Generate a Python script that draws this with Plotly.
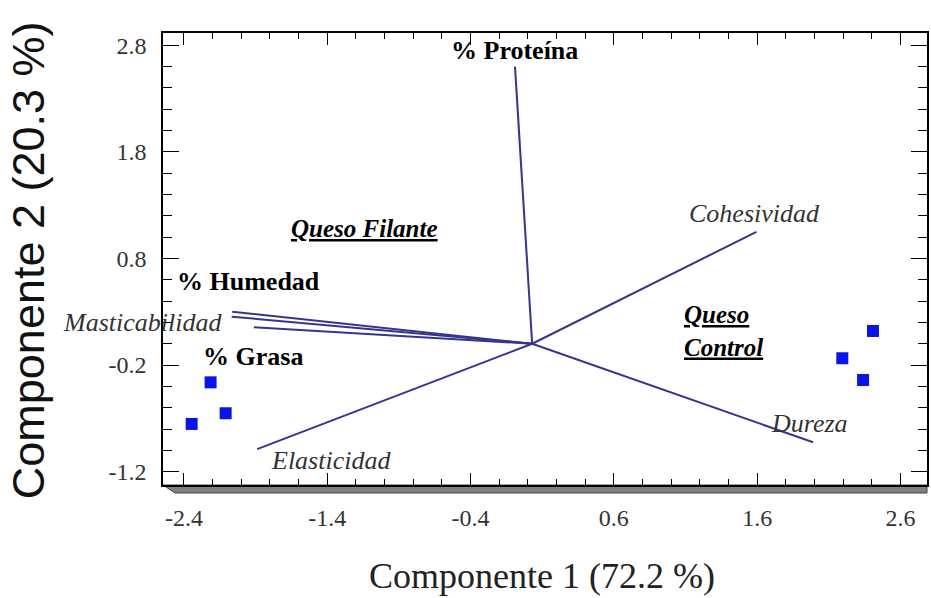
import plotly.graph_objects as go

# ---- data ----
origin_x = 0.03
origin_y = 0.0

var_names = ["% Proteína", "% Humedad", "Masticabilidad", "% Grasa",
             "Elasticidad", "Cohesividad", "Dureza"]
var_x = [-0.09, -2.063, -2.067, -1.912, -1.889, 1.595, 1.99]
var_y = [2.60, 0.30, 0.254, 0.154, -0.989, 1.05, -0.924]

obs_x = [-2.214, -2.109, -2.346, 2.408, 2.194, 2.339]
obs_y = [-0.362, -0.652, -0.752, 0.12, -0.136, -0.34]

x_ticks = [-2.4, -1.4, -0.4, 0.6, 1.6, 2.6]
y_ticks = [-1.2, -0.2, 0.8, 1.8, 2.8]

group_names = ["Queso Filante", "Queso Control"]

# ---- figure ----
fig = go.Figure()

lx, ly = [], []
for vx, vy in zip(var_x, var_y):
    lx += [origin_x, vx, None]
    ly += [origin_y, vy, None]
fig.add_trace(go.Scatter(x=lx, y=ly, mode="lines",
                         line=dict(color="#35358f", width=2),
                         hoverinfo="skip", showlegend=False))

fig.add_trace(go.Scatter(x=obs_x, y=obs_y, mode="markers",
                         marker=dict(symbol="square", size=12, color="#0a14e6",
                                     line=dict(width=0)),
                         showlegend=False))

serif = "Liberation Serif"
sans = "Liberation Sans"
bold_style = dict(family=serif, size=26, color="#000000")
ital_style = dict(family=serif, size=26, color="#333333")

# label anchor positions (layout only)
label_pos = {
    "% Proteína": (-0.093, 2.753, "center"),
    "% Humedad": (-1.951, 0.588, "center"),
    "Masticabilidad": (-2.118, 0.195, "right"),
    "% Grasa": (-1.916, -0.124, "center"),
    "Elasticidad": (-1.374, -1.099, "center"),
    "Cohesividad": (1.584, 1.225, "center"),
    "Dureza": (1.967, -0.752, "center"),
}
for name in var_names:
    ax_, ay_, anc = label_pos[name]
    is_bold = name.startswith("%")
    txt = f"<b>{name}</b>" if is_bold else f"<i>{name}</i>"
    fig.add_annotation(x=ax_, y=ay_, text=txt, showarrow=False,
                       xanchor=anc, yanchor="middle",
                       font=bold_style if is_bold else ital_style)

group_style = dict(family=serif, size=25, color="#000000")
fig.add_annotation(x=-1.137, y=1.085, text=f"<b><i><u>{group_names[0]}</u></i></b>",
                   showarrow=False, xanchor="center", yanchor="middle",
                   font=group_style)
q1, q2 = group_names[1].split(" ")
fig.add_annotation(x=1.076, y=0.12,
                   text=f"<b><i><u>{q1}</u></i></b><br><b><i><u>{q2}</u></i></b>",
                   showarrow=False, xanchor="left", yanchor="middle", align="left",
                   font=group_style)

# axis titles
fig.add_annotation(xref="paper", yref="paper", x=0.496, y=-0.2013,
                   text="Componente 1 (72.2 %)", showarrow=False,
                   xanchor="center", yanchor="middle",
                   font=dict(family=serif, size=36, color="#222222"))
fig.add_annotation(xref="paper", yref="paper", x=-0.175, y=0.498,
                   text="Componente 2 (20.3 %)", showarrow=False, textangle=-90,
                   xanchor="center", yanchor="middle",
                   font=dict(family=sans, size=45, color="#111111"))

# 3D shadow under bottom axis
fig.add_shape(type="path", xref="paper", yref="paper",
              path="M 0,0 L 1.0,0 L 1.0,-0.0177 L 0.0157,-0.0177 Z",
              fillcolor="#808080", line=dict(color="#444444", width=1),
              layer="below")

axis_common = dict(showline=True, linecolor="#000000", linewidth=1.5,
                   mirror="allticks", ticks="inside", tickcolor="#000000",
                   tickwidth=1, showgrid=False, zeroline=False,
                   tickfont=dict(family=serif, size=24, color="#333333"),
                   ticklabelstandoff=10)

fig.update_xaxes(range=[-2.546, 2.785], tickmode="array", tickvals=x_ticks,
                 ticktext=[f"{v:.1f}" for v in x_ticks], ticklen=12,
                 minor=dict(ticks="inside", ticklen=6, dtick=0.2, tick0=-2.4,
                            tickcolor="#000000", showgrid=False),
                 **axis_common)
fig.update_yaxes(range=[-1.325, 2.915], tickmode="array", tickvals=y_ticks,
                 ticktext=[f"{v:.1f}" for v in y_ticks], ticklen=16,
                 minor=dict(ticks="inside", ticklen=9, dtick=0.2, tick0=-1.2,
                            tickcolor="#000000", showgrid=False),
                 **axis_common)

fig.update_layout(width=931, height=598,
                  font=dict(family=serif),
                  margin=dict(l=163, r=2, t=33, b=113),
                  plot_bgcolor="white", paper_bgcolor="white",
                  showlegend=False)

fig.write_html("out.html")
